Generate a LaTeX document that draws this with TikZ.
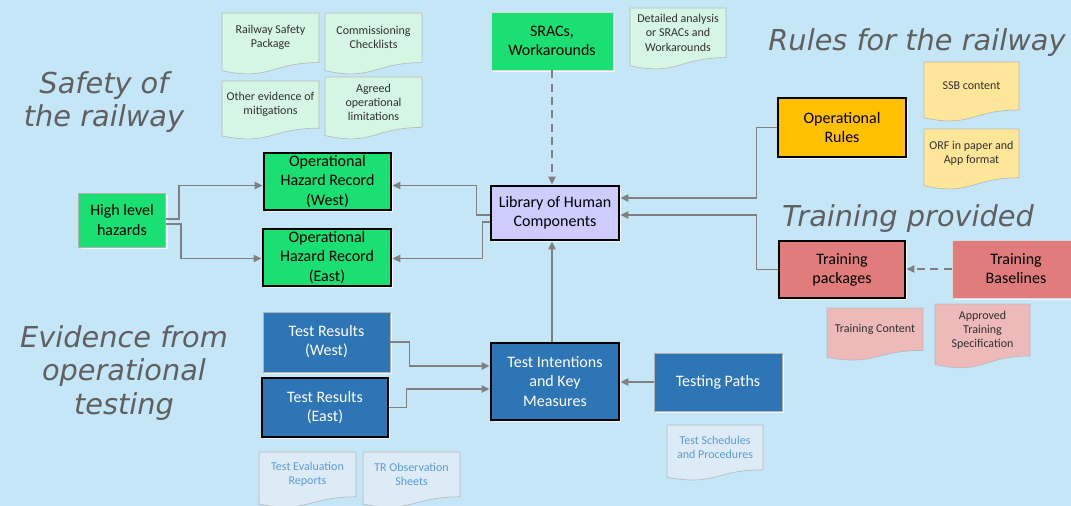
\documentclass[tikz,border=0pt]{standalone}
\usepackage{fontspec}
\setmainfont{Carlito}
\newfontfamily\titlefont{DejaVu Sans}
\usetikzlibrary{calc,arrows.meta,shadows}
\definecolor{bg}{HTML}{C4E6F7}
\definecolor{hgreen}{HTML}{1ADF72}
\definecolor{lav}{HTML}{CCCCFF}
\definecolor{orng}{HTML}{FFC000}
\definecolor{rose}{HTML}{E07C7C}
\definecolor{blu}{HTML}{2E75B6}
\definecolor{dgreen}{HTML}{D6F6E4}
\definecolor{dyellow}{HTML}{FFE699}
\definecolor{dpink}{HTML}{EEB9B9}
\definecolor{dblue}{HTML}{DDEBF7}
\definecolor{dbluetext}{HTML}{5B9BD5}
\definecolor{arrowgray}{HTML}{808080}
\definecolor{titlegray}{HTML}{606060}
\definecolor{doctxt}{HTML}{303030}
\newcommand\docshape[8]{%
  \pgfmathsetmacro\docH{#4-#2}%
  \filldraw[fill=#5, draw=gray!55, line width=0.5pt] (#1,#2) -- (#3,#2) -- (#3,{#2+0.8*\docH})
    .. controls ({(#1+#3)/2},{#2+0.8*\docH}) and ({(#1+#3)/2},{#2+1.1*\docH}) .. (#1,{#2+0.93*\docH}) -- cycle;
  \node[doctext, text=#6] (#7) at ({(#1+#3)/2},{#2+0.4*\docH}) {#8};%
}
\begin{document}
\begin{tikzpicture}[x=0.75pt,y=-0.75pt,
  sz/.style 2 args={minimum width=#1*0.75pt, minimum height=#2*0.75pt},
  box/.style={rectangle, align=center, inner sep=0pt, font=\fontsize{12}{14.3}\selectfont,
    drop shadow={shadow xshift=1.5pt, shadow yshift=-1.5pt, fill=white, opacity=0.7}},
  thickb/.style={box, draw=black, line width=2.2pt},
  thinb/.style={box, draw=gray!60, line width=0.5pt},
  faintb/.style={box, draw=white!70!gray, line width=0.5pt},
  doctext/.style={align=center, inner sep=0pt, font=\fontsize{9}{10.6}\selectfont},
  title/.style={font=\titlefont\itshape\fontsize{21.6}{25}\selectfont, text=titlegray, align=center, inner sep=0pt},
  arr/.style={draw=arrowgray, line width=1pt, -{Triangle[length=6pt,width=5.5pt]}},
  darr/.style={arr, dash pattern=on 6pt off 4pt}
]
\fill[bg] (0,0) rectangle (1071,506);
\useasboundingbox (0,0) rectangle (1071,506);

% titles
\node[title] (t1) at (104,102) {Safety of\\the railway};
\node[title] (t2) at (917,43) {Rules for the railway};
\node[title] (t3) at (908,219) {Training provided};
\node[title] (t4) at (124,373) {Evidence from\\operational\\testing};

% documents
\docshape{222}{13}{319}{75}{dgreen}{doctxt}{d1}{Railway Safety\\Package}
\docshape{325}{13}{422}{75}{dgreen}{doctxt}{d2}{Commissioning\\Checklists}
\docshape{222}{81}{319}{140}{dgreen}{doctxt}{d3}{Other evidence of\\mitigations}
\docshape{325}{77}{422}{140}{dgreen}{doctxt}{d4}{Agreed\\operational\\limitations}
\docshape{630}{8}{726}{70}{dgreen}{doctxt}{d5}{Detailed analysis\\or SRACs and\\Workarounds}
\docshape{924}{62}{1019}{122}{dyellow}{doctxt}{d6}{SSB content}
\docshape{924}{129}{1019}{190}{dyellow}{doctxt}{d7}{ORF in paper and\\App format}
\docshape{827}{308}{923}{361}{dpink}{doctxt}{d8}{Training Content}
\docshape{935}{304}{1030}{369}{dpink}{doctxt}{d9}{Approved\\Training\\Specification}
\docshape{667}{425}{763}{481}{dblue}{dbluetext}{d10}{Test Schedules\\and Procedures}
\docshape{259}{452}{356}{508}{dblue}{dbluetext}{d11}{Test Evaluation\\Reports}
\docshape{363}{452}{460}{508}{dblue}{dbluetext}{d12}{TR Observation\\Sheets}

% boxes
\node[thinb, fill=hgreen, sz={87}{54}] (hlh) at (122,220) {High level\\hazards};
\node[thickb, fill=hgreen, sz={127}{57}] (ohrw) at (327.5,181.5) {Operational\\Hazard Record\\(West)};
\node[thickb, fill=hgreen, sz={128}{57}] (ohre) at (327,257.5) {Operational\\Hazard Record\\(East)};
\node[thickb, fill=lav, sz={128}{54}] (lib) at (555,213) {Library of Human\\Components};
\node[faintb, fill=hgreen, sz={122}{58}] (srac) at (552,41) {SRACs,\\Workarounds};
\node[thickb, fill=orng, sz={128}{59}] (oprules) at (842,127.5) {Operational\\Rules};
\node[thickb, fill=rose, sz={126}{57}] (trpk) at (842,269.5) {Training\\packages};
\node[faintb, fill=rose, sz={128}{58}] (trbl) at (1016,269) {Training\\Baselines};
\node[thinb, fill=blu, text=white, sz={127}{60}] (trw) at (326.5,342) {Test Results\\(West)};
\node[thickb, fill=blu, text=white, sz={126}{59}] (tre) at (325,407.5) {Test Results\\(East)};
\node[thickb, fill=blu, text=white, sz={128}{77}] (ti) at (555,381.5) {Test Intentions\\and Key\\Measures};
\node[thinb, fill=blu, text=white, sz={128}{58}] (tp) at (718,382) {Testing Paths};

% connectors
\draw[arr] ($(hlh.east)+(0,-1)$) -- ++(13,0) |- ($(ohrw.west)+(0,4)$);
\draw[arr] ($(hlh.east)+(0,4)$) -- ++(15,0) |- ($(ohre.west)+(0,1)$);
\draw[arr] ($(lib.west)+(0,2)$) -- ++(-13,0) |- ($(ohrw.east)+(0,4)$);
\draw[arr] ($(lib.west)+(0,9)$) -- ++(-7,0) |- ($(ohre.east)+(0,1)$);
\draw[arr] (oprules.west) -- ++(-20,0) |- ($(lib.east)+(0,-15)$);
\draw[arr] (trpk.west) -- ++(-21,0) |- ($(lib.east)+(0,2)$);
\draw[darr] (srac.south) -- (srac.south |- lib.north);
\draw[arr] ($(ti.north)+(-3,0)$) -- ($(lib.south)+(-3,0)$);
\draw[arr] (tp.west) -- (tp.west -| ti.east);
\draw[darr] (trbl.west) -- (trbl.west -| trpk.east);
\draw[arr] (trw.east) -- ++(19,0) |- ($(ti.west)+(0,-15.5)$);
\draw[arr] (tre.east) -- ++(17,0) |- ($(ti.west)+(0,7.5)$);
\end{tikzpicture}
\end{document}
